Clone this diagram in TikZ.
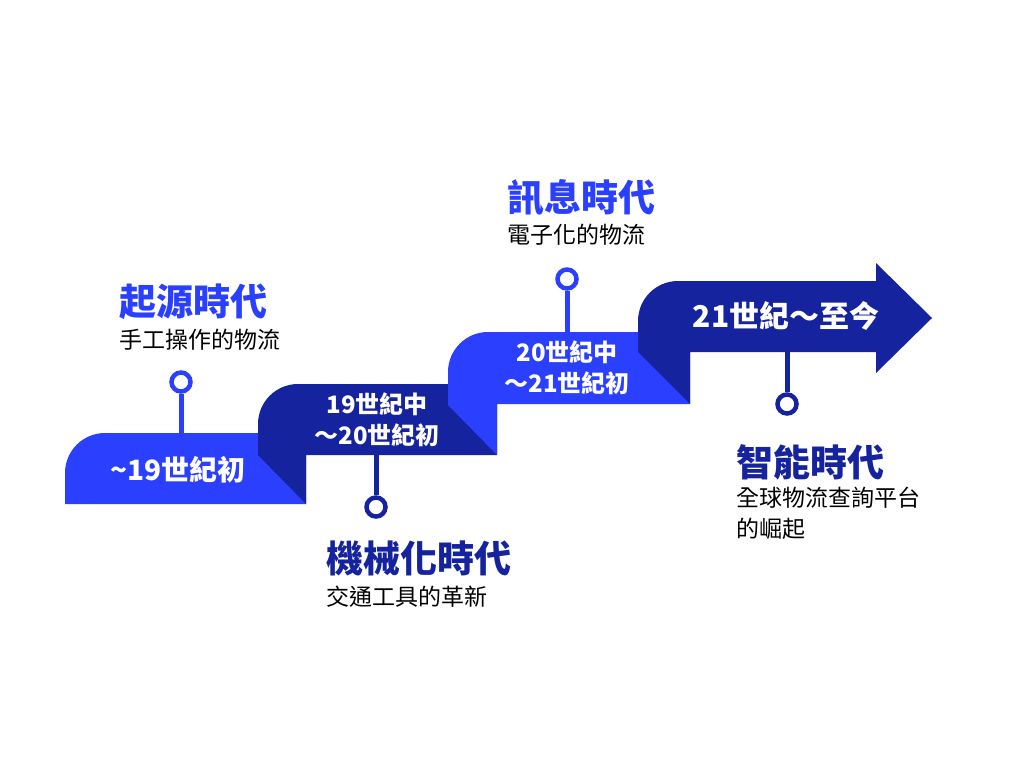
\documentclass[tikz,border=0pt]{standalone}
\usepackage{fontspec}
\setmainfont{Noto Sans CJK TC}
\definecolor{bb}{HTML}{2B40FF}
\definecolor{dk}{HTML}{16239E}
\begin{document}
\begin{tikzpicture}[x=1pt,y=-1pt,
  pin/.style={line width=5pt},
  ring/.style={circle,draw,line width=4.5pt,minimum size=19pt,inner sep=0pt,fill=white},
  lab/.style={text=white,font=\bfseries\fontsize{24}{31}\selectfont,align=center},
  title/.style={anchor=west,font=\bfseries\fontsize{37}{42}\selectfont},
  sub/.style={anchor=west,font=\fontsize{23}{31}\selectfont,align=left}]
\useasboundingbox (0,0) rectangle (1024,768);
% steps
\fill[bb] (65,504) -- (65,473) arc[start angle=180,end angle=270,radius=40] -- (306,433) -- (306,504) -- cycle;
\fill[dk] (258,455) -- (258,424) arc[start angle=180,end angle=270,radius=40] -- (497,384) -- (497,455) -- (306,455) -- (306,504) -- cycle;
\fill[bb] (448,405) -- (448,372) arc[start angle=180,end angle=270,radius=40] -- (690,332) -- (690,404) -- (497,404) -- (497,455) -- cycle;
\fill[dk] (638,352) -- (638,321) arc[start angle=180,end angle=270,radius=40] -- (876,281) -- (876,263) -- (932,318) -- (876,373) -- (876,352) -- (690,352) -- (690,404) -- cycle;
% labels
\node[lab,font=\bfseries\fontsize{28}{32}\selectfont] (l1) at (178,470) {\textasciitilde 19世紀初};
\node[lab] (l2) at (377,420) {19世紀中\\～20世紀初};
\node[lab] (l3) at (567,368) {20世紀中\\～21世紀初};
\node[lab,font=\bfseries\fontsize{30}{34}\selectfont] (l4) at (786,316) {21世紀～至今};
% pins
\node[ring,draw=bb] (p1) at (181,382) {};
\coordinate (a1) at (181,433);
\draw[pin,bb] (p1) -- (a1);
\node[ring,draw=dk] (p2) at (376,507) {};
\coordinate (a2) at (376,455);
\draw[pin,dk] (a2) -- (p2);
\node[ring,draw=bb] (p3) at (567,279) {};
\coordinate (a3) at (567,332);
\draw[pin,bb] (p3) -- (a3);
\node[ring,draw=dk] (p4) at (787,404) {};
\coordinate (a4) at (787,352);
\draw[pin,dk] (a4) -- (p4);
% texts
\node[title,text=bb] (t1) at (116,302) {起源時代};
\node[sub] (s1) at (116,340) {手工操作的物流};
\node[title,text=dk] (t2) at (323,558) {機械化時代};
\node[sub] (s2) at (323,597) {交通工具的革新};
\node[title,text=bb] (t3) at (504,198) {訊息時代};
\node[sub] (s3) at (504,235) {電子化的物流};
\node[title,text=dk] (t4) at (733,462) {智能時代};
\node[sub,anchor=north west] (s4) at (733,484) {全球物流查詢平台\\的崛起};
\end{tikzpicture}
\end{document}
